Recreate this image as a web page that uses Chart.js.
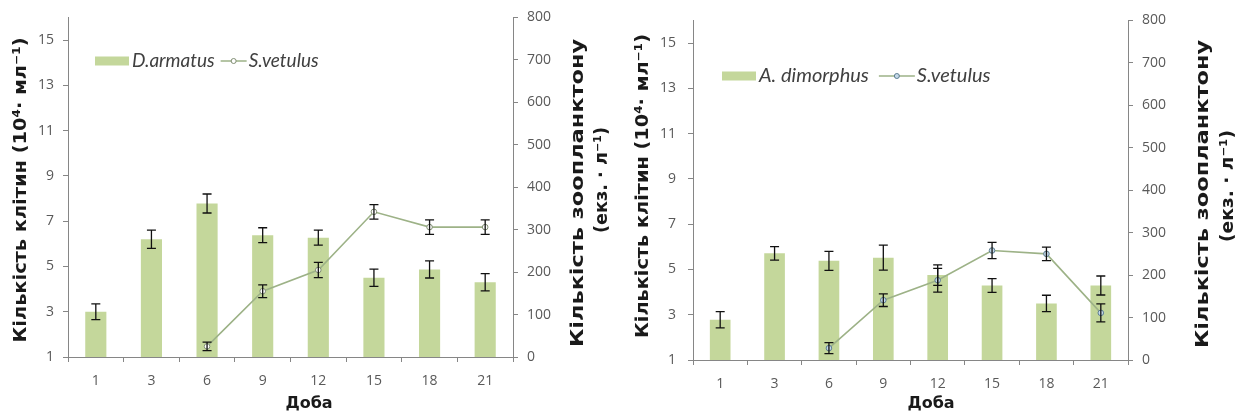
<!DOCTYPE html>
<html>
<head>
<meta charset="utf-8">
<script src="https://cdn.jsdelivr.net/npm/chart.js@4"></script>
<style>
body { margin: 0; background: #fff; width: 1248px; height: 419px; overflow: hidden; position: relative; }
.panel { position: absolute; top: 0; width: 624px; height: 419px; }
</style>
</head>
<body>
<div class="panel" style="left:0"><canvas id="grafico1" width="624" height="419"></canvas></div>
<div class="panel" style="left:624px"><canvas id="grafico2" width="624" height="419"></canvas></div>
<script>
// доба досліду
const doba = ['1', '3', '6', '9', '12', '15', '18', '21'];
const tickKlitin = [1, 3, 5, 7, 9, 11, 13, 15];
const tickZoo = [0, 100, 200, 300, 400, 500, 600, 700, 800];

// ліва панель: D.armatus + S.vetulus
const armatus = [3.0, 6.2, 7.78, 6.38, 6.27, 4.5, 4.87, 4.3];
const armatusErr = [0.35, 0.4, 0.42, 0.33, 0.33, 0.38, 0.38, 0.38];
const vetulus1 = [null, null, 25, 155, 205, 342, 306, 306];
const vetulus1Err = [0, 0, 10, 15, 18, 17, 17, 17];

// права панель: A. dimorphus + S.vetulus
const dimorphus = [2.78, 5.71, 5.38, 5.52, 4.75, 4.29, 3.5, 4.29];
const dimorphusErr = [0.36, 0.3, 0.42, 0.55, 0.45, 0.3, 0.36, 0.42];
const vetulus2 = [null, null, 28, 141, 188, 258, 250, 111];
const vetulus2Err = [0, 0, 13, 15, 28, 19, 16, 21];

const gray = '#868686';
const tickFont = { family: 'Open Sans', size: 14 };

// планки похибок
const pokhybky = {
    id: 'pokhybky',
    afterDatasetsDraw(chart) {
        const ctx = chart.ctx;
        chart.data.datasets.forEach((ds, i) => {
            if (!ds.bledy) return;
            const meta = chart.getDatasetMeta(i);
            const sc = chart.scales[meta.yAxisID];
            meta.data.forEach((el, j) => {
                const v = ds.data[j];
                if (v === null || !ds.bledy[j]) return;
                const yT = sc.getPixelForValue(v + ds.bledy[j]);
                const yB = sc.getPixelForValue(v - ds.bledy[j]);
                ctx.save();
                ctx.strokeStyle = '#111';
                ctx.lineWidth = 1.3;
                ctx.beginPath();
                ctx.moveTo(el.x, yT); ctx.lineTo(el.x, yB);
                ctx.moveTo(el.x - 4.5, yT); ctx.lineTo(el.x + 4.5, yT);
                ctx.moveTo(el.x - 4.5, yB); ctx.lineTo(el.x + 4.5, yB);
                ctx.stroke();
                ctx.restore();
            });
        });
    }
};

// підписи осей
function napysy(items) {
    return {
        id: 'napysy',
        afterDraw(chart) {
            const ctx = chart.ctx;
            items.forEach(t => {
                ctx.save();
                ctx.font = 'bold ' + t.size + 'px "DejaVu Sans"';
                ctx.fillStyle = '#1a1a1a';
                ctx.textAlign = 'center';
                ctx.textBaseline = 'middle';
                ctx.translate(t.x, t.y);
                ctx.rotate(t.rot * Math.PI / 180);
                if (t.len) {
                    const w = ctx.measureText(t.text).width;
                    ctx.scale(t.len / w, 1);
                }
                ctx.fillText(t.text, 0, 0);
                ctx.restore();
            });
        }
    };
}

// легенда
function legenda(x0, y, size, lineW, gap) {
    return {
        id: 'legenda',
        afterDraw(chart) {
            const ctx = chart.ctx;
            let x = x0;
            ctx.save();
            ctx.font = 'italic ' + size + 'px Lato';
            ctx.textBaseline = 'middle';
            chart.data.datasets.forEach(ds => {
                if (ds.type === 'line') {
                    ctx.strokeStyle = ds.borderColor;
                    ctx.lineWidth = 1.5;
                    ctx.beginPath();
                    ctx.moveTo(x, y); ctx.lineTo(x + lineW, y);
                    ctx.stroke();
                    ctx.beginPath();
                    ctx.arc(x + lineW / 2, y, 2.5, 0, Math.PI * 2);
                    ctx.fillStyle = ds.pointBackgroundColor;
                    ctx.fill();
                    ctx.strokeStyle = ds.pointBorderColor;
                    ctx.lineWidth = 1;
                    ctx.stroke();
                    x += lineW + 2;
                } else {
                    ctx.fillStyle = ds.backgroundColor;
                    ctx.fillRect(x, y - 4.5, 34, 9);
                    x += 37;
                }
                ctx.fillStyle = '#404040';
                ctx.fillText(ds.label, x, y);
                x += ctx.measureText(ds.label).width + gap;
            });
            ctx.restore();
        }
    };
}

function makeChart(id, barLabel, bars, barErr, line, lineErr, lay, markFill, markBorder, plugins) {
    return new Chart(document.getElementById(id), {
        type: 'bar',
        data: {
            labels: doba,
            datasets: [{
                label: barLabel,
                data: bars,
                bledy: barErr,
                yAxisID: 'y',
                backgroundColor: '#c4d79b',
                barPercentage: 0.38,
                categoryPercentage: 1,
                order: 1
            }, {
                type: 'line',
                label: 'S.vetulus',
                data: line,
                bledy: lineErr,
                yAxisID: 'y1',
                borderColor: '#9db287',
                borderWidth: 1.6,
                pointRadius: 2.8,
                pointBackgroundColor: markFill,
                pointBorderColor: markBorder,
                pointBorderWidth: 1,
                spanGaps: false,
                order: 0
            }]
        },
        options: {
            responsive: false,
            animation: false,
            layout: { padding: { top: lay.top } },
            plugins: { legend: { display: false }, tooltip: { enabled: false } },
            scales: {
                x: {
                    grid: { drawOnChartArea: false, offset: true, tickLength: 5, color: gray },
                    border: { color: gray },
                    ticks: { color: '#595959', font: tickFont, padding: 11, autoSkip: false, maxRotation: 0 },
                    afterFit: s => { s.height = lay.xh; }
                },
                y: {
                    position: 'left',
                    min: 1, max: 16,
                    afterBuildTicks: s => { s.ticks = tickKlitin.map(v => ({ value: v })); },
                    grid: { drawOnChartArea: false, tickLength: 5, color: gray },
                    border: { color: gray },
                    ticks: { color: '#595959', font: tickFont, padding: lay.ypad },
                    afterFit: s => { s.width = lay.yw; }
                },
                y1: {
                    position: 'right',
                    min: 0, max: 800,
                    afterBuildTicks: s => { s.ticks = tickZoo.map(v => ({ value: v })); },
                    grid: { drawOnChartArea: false, tickLength: 5, color: gray },
                    border: { color: gray },
                    ticks: { color: '#595959', font: tickFont, padding: 9 },
                    afterFit: s => { s.width = lay.y1w; }
                }
            }
        },
        plugins: [pokhybky].concat(plugins)
    });
}

makeChart('grafico1', 'D.armatus', armatus, armatusErr, vetulus1, vetulus1Err,
    { top: 12, xh: 62, yw: 68, y1w: 111, ypad: 9 }, '#ffffff', '#7f8c72', [
    napysy([
        { text: 'Кількість клітин (10⁴· мл⁻¹)', x: 21, y: 190, rot: -90, size: 18, len: 305 },
        { text: 'Кількість зоопланктону', x: 578, y: 193, rot: -90, size: 18, len: 308 },
        { text: '(екз. · л⁻¹)', x: 602, y: 180, rot: -90, size: 18, len: 106 },
        { text: 'Доба', x: 309, y: 404, rot: 0, size: 16 }
    ]),
    legenda(95, 61, 19, 26, 6)
]);

makeChart('grafico2', 'A. dimorphus', dimorphus, dimorphusErr, vetulus2, vetulus2Err,
    { top: 13, xh: 59, yw: 69, y1w: 120, ypad: 12 }, '#c5d9ea', '#5d7d90', [
    napysy([
        { text: 'Кількість клітин (10⁴· мл⁻¹)', x: 19, y: 186, rot: -90, size: 18, len: 304 },
        { text: 'Кількість зоопланктону', x: 579, y: 194, rot: -90, size: 18, len: 308 },
        { text: '(екз. · л⁻¹)', x: 604, y: 186, rot: -90, size: 18, len: 112 },
        { text: 'Доба', x: 307, y: 404, rot: 0, size: 16 }
    ]),
    legenda(98, 76, 20, 36, 10)
]);
</script>
</body>
</html>
